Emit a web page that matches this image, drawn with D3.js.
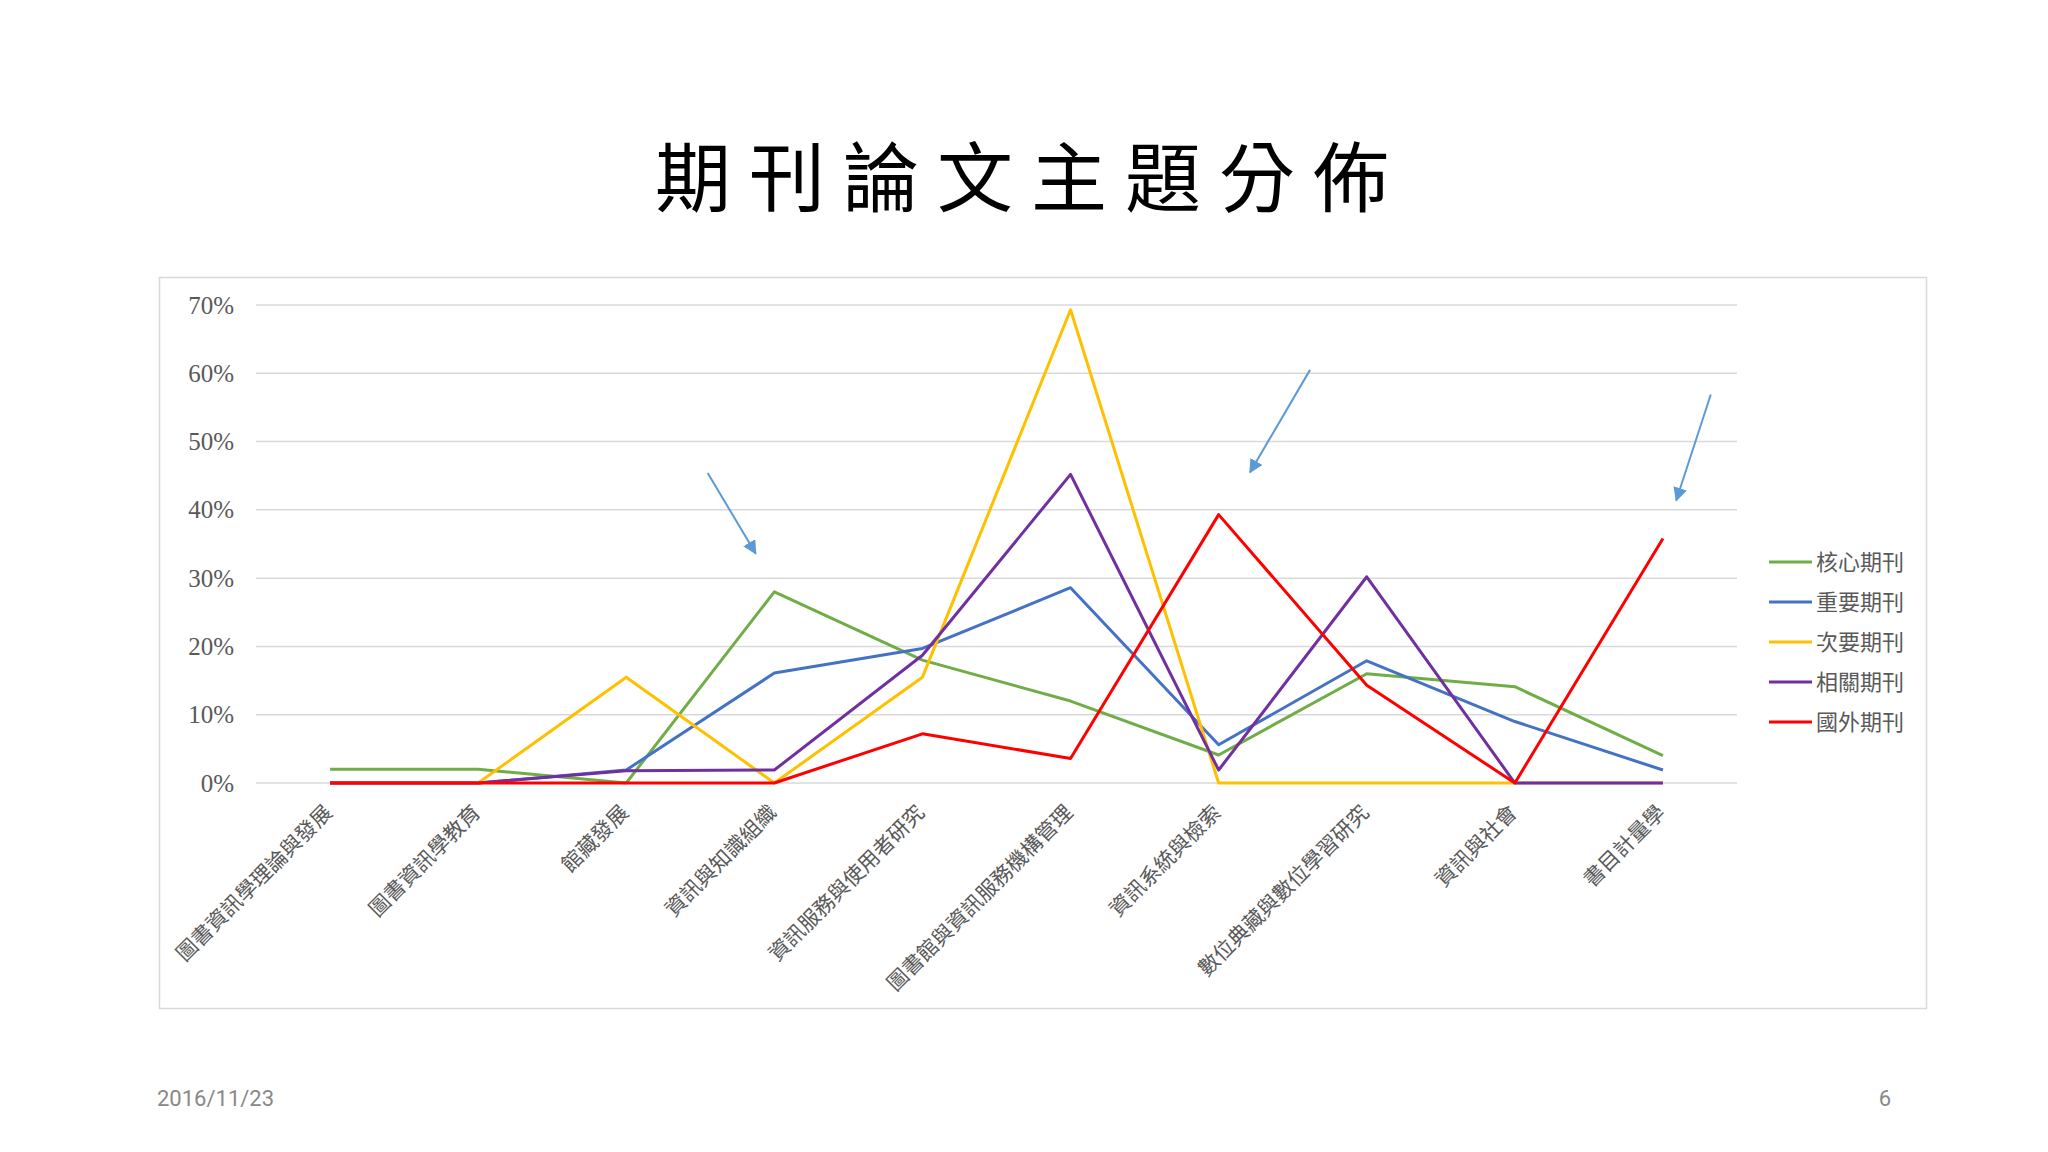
<!DOCTYPE html>
<html>
<head>
<meta charset="utf-8">
<script src="https://cdn.jsdelivr.net/npm/d3@7"></script>
<style>
  html, body { margin: 0; padding: 0; background: #ffffff; }
  svg { display: block; }
</style>
</head>
<body>
<script>
// ---- data ----
const categories = ["圖書資訊學理論與發展","圖書資訊學教育","館藏發展","資訊與知識組織","資訊服務與使用者研究","圖書館與資訊服務機構管理","資訊系統與檢索","數位典藏與數位學習研究","資訊與社會","書目計量學"];
const seriesNames = ["核心期刊","重要期刊","次要期刊","相關期刊","國外期刊"];
const coreVals      = [2.0, 2.0, 0,   28.0, 18.0, 12.0, 4.1, 16.0, 14.1, 4.0];
const importantVals = [0,   0,   1.9, 16.1, 19.7, 28.6, 5.6, 17.9, 9.0,  1.9];
const secondaryVals = [0,   0,   15.5, 0,   15.5, 69.3, 0,   0,    0,    0];
const relatedVals   = [0,   0,   1.8, 1.9,  18.7, 45.2, 1.9, 30.2, 0,    0];
const foreignVals   = [0,   0,   0,   0,    7.2,  3.6,  39.3, 14.3, 0,   35.8];
const yTicks = [0,10,20,30,40,50,60,70];
const title = "期刊論文主題分佈";
const footerDate = "2016/11/23";
const pageNum = "6";
// annotation arrows: [fromIndex, fromValue, toIndex, toValue]
const arrows = [[2.55,45.4,2.874,33.6],[6.617,60.5,6.212,45.5],[9.323,56.9,9.09,41.4]];

const colors = ["#70AD47","#4472C4","#FFC000","#7030A0","#FF0000"];
const allSeries = [coreVals, importantVals, secondaryVals, relatedVals, foreignVals];

const W = 2048, H = 1152;
const svg = d3.select("body").append("svg").attr("width", W).attr("height", H);
svg.append("rect").attr("width", W).attr("height", H).attr("fill", "#fff");

// title
svg.append("text").attr("x", 1031).attr("y", 206)
  .attr("text-anchor", "middle")
  .attr("font-family", "'Noto Sans CJK TC'")
  .attr("font-size", 76).attr("letter-spacing", 18).attr("fill", "#000")
  .text(title);

// chart frame
svg.append("rect").attr("x", 159.5).attr("y", 277.5).attr("width", 1767).attr("height", 731)
  .attr("fill", "#fff").attr("stroke", "#d9d9d9").attr("stroke-width", 1.5);

const x = d3.scalePoint().domain(categories).range([256, 1737]).padding(0.5);
const y = d3.scaleLinear().domain([0, 70]).range([783, 305]);
const xi = d3.scaleLinear().domain([0, categories.length - 1])
  .range([x(categories[0]), x(categories[categories.length - 1])]);

// gridlines
svg.append("g").selectAll("line").data(yTicks).join("line")
  .attr("x1", 256).attr("x2", 1737)
  .attr("y1", d => y(d)).attr("y2", d => y(d))
  .attr("stroke", "#d9d9d9").attr("stroke-width", 1.5);

// y axis
const yAxis = svg.append("g").attr("transform", "translate(240,0)")
  .call(d3.axisLeft(y).tickValues(yTicks).tickFormat(d => d + "%").tickSize(0).tickPadding(6));
yAxis.select(".domain").remove();
yAxis.selectAll("text").attr("font-family", "'Liberation Serif'").attr("font-size", 25).attr("fill", "#595959");

// x axis labels
const xAxis = svg.append("g").attr("transform", "translate(0,783)")
  .call(d3.axisBottom(x).tickSize(0).tickPadding(0));
xAxis.select(".domain").remove();
xAxis.selectAll("text")
  .attr("font-family", "'Noto Sans CJK TC'").attr("font-size", 21).attr("fill", "#595959")
  .attr("text-anchor", "end").attr("dy", 0)
  .attr("transform", "translate(3,31) rotate(-45)");

// lines
const line = d3.line().x((d, i) => x(categories[i])).y(d => y(d));
svg.append("g").selectAll("path").data(allSeries).join("path")
  .attr("d", d => line(d)).attr("fill", "none")
  .attr("stroke", (d, i) => colors[i]).attr("stroke-width", 3)
  .attr("stroke-linejoin", "round");

// arrows
svg.append("defs").append("marker").attr("id", "ah")
  .attr("viewBox", "0 0 10 10").attr("refX", 9).attr("refY", 5)
  .attr("markerWidth", 7).attr("markerHeight", 7).attr("orient", "auto")
  .append("path").attr("d", "M0,0 L10,5 L0,10 Z").attr("fill", "#5B9BD5");
svg.append("g").selectAll("line").data(arrows).join("line")
  .attr("x1", d => xi(d[0])).attr("y1", d => y(d[1]))
  .attr("x2", d => xi(d[2])).attr("y2", d => y(d[3]))
  .attr("stroke", "#5B9BD5").attr("stroke-width", 2).attr("marker-end", "url(#ah)");

// legend
const lg = svg.append("g").selectAll("g").data(seriesNames).join("g")
  .attr("transform", (d, i) => `translate(1769,${562 + i * 40})`);
lg.append("line").attr("x1", 0).attr("x2", 43).attr("y1", 0).attr("y2", 0)
  .attr("stroke", (d, i) => colors[i]).attr("stroke-width", 3);
lg.append("text").attr("x", 47).attr("y", 0).attr("dy", "0.35em")
  .attr("font-family", "'Noto Sans CJK TC'").attr("font-size", 22).attr("fill", "#595959")
  .text(d => d);

// footer
svg.append("text").attr("x", 157).attr("y", 1106)
  .attr("font-family", "Roboto").attr("font-size", 22).attr("fill", "#898989").text(footerDate);
svg.append("text").attr("x", 1891).attr("y", 1106).attr("text-anchor", "end")
  .attr("font-family", "Roboto").attr("font-size", 22).attr("fill", "#898989").text(pageNum);
</script>
</body>
</html>
